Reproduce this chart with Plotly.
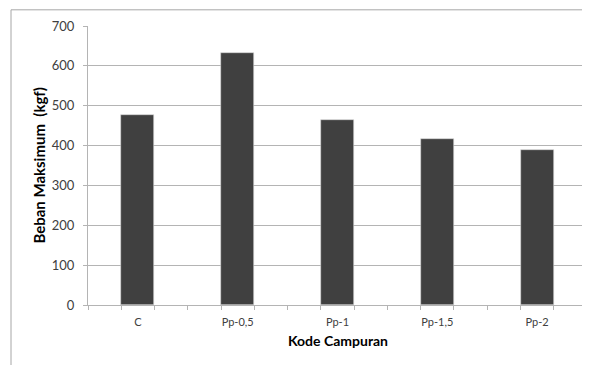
import plotly.graph_objects as go

categories = ["C", "Pp-0,5", "Pp-1", "Pp-1,5", "Pp-2"]
beban = [476, 633, 465, 417, 390]
y_ticks = [0, 100, 200, 300, 400, 500, 600, 700]

FONT = "Lato, 'Open Sans', sans-serif"
GRID = "#b4b4b4"
positions = list(range(len(categories)))

fig = go.Figure()
fig.add_trace(go.Bar(
    x=positions, y=beban, width=0.33,
    marker=dict(color="#404040", line=dict(color="#d9d9d9", width=0.6)),
    showlegend=False, hoverinfo="x+y",
))
# invisible trace on overlaid axis for tick marks every third of a category
fig.add_trace(go.Scatter(x=[-0.5, len(categories) - 0.5], y=[0, 0], xaxis="x2",
                         mode="lines", line=dict(width=0), showlegend=False, hoverinfo="skip"))

fig.update_layout(
    width=582, height=357,
    margin=dict(l=80, r=3, t=18, b=60, autoexpand=False),
    paper_bgcolor="white", plot_bgcolor="white",
    bargap=0,
    xaxis=dict(
        range=[-0.5, len(categories) - 0.5],
        tickvals=positions, ticktext=categories,
        ticks="", showgrid=False, zeroline=False, automargin=False,
        showline=True, linecolor=GRID, linewidth=1,
        ticklabelstandoff=7,
        tickfont=dict(family=FONT, size=11, color="#404040"),
    ),
    xaxis2=dict(
        overlaying="x", anchor="y", side="bottom", automargin=False,
        range=[-0.5, len(categories) - 0.5],
        tick0=-0.5, dtick=1/3, ticks="outside", ticklen=4, tickcolor=GRID,
        showticklabels=False, showgrid=False, zeroline=False, showline=False,
    ),
    yaxis=dict(
        range=[0, 700], tickvals=y_ticks, automargin=False,
        ticks="outside", ticklen=4, tickcolor=GRID,
        showgrid=True, gridcolor=GRID, gridwidth=1, zeroline=False,
        showline=True, linecolor=GRID, linewidth=1,
        ticklabelstandoff=6,
        tickfont=dict(family=FONT, size=13, color="#404040"),
    ),
    annotations=[
        dict(text="<b>Kode Campuran</b>", xref="paper", yref="paper", x=0.5, y=-0.128,
             xanchor="center", yanchor="middle", showarrow=False,
             font=dict(family=FONT, size=14, color="#000")),
        dict(text="<b>Beban Maksimum  (kgf)</b>", xref="paper", yref="paper", x=-0.1, y=0.5,
             xanchor="center", yanchor="middle", showarrow=False, textangle=-90,
             font=dict(family=FONT, size=15, color="#000")),
    ],
    shapes=[
        dict(type="line", xref="paper", yref="paper", x0=-0.1543, x1=1.01, y0=1.058, y1=1.058,
             line=dict(color="#a6a6a6", width=1)),
        dict(type="line", xref="paper", yref="paper", x0=-0.1543, x1=-0.1543, y0=1.058, y1=-0.22,
             line=dict(color="#a6a6a6", width=1)),
    ],
)

fig.write_html("out.html")
